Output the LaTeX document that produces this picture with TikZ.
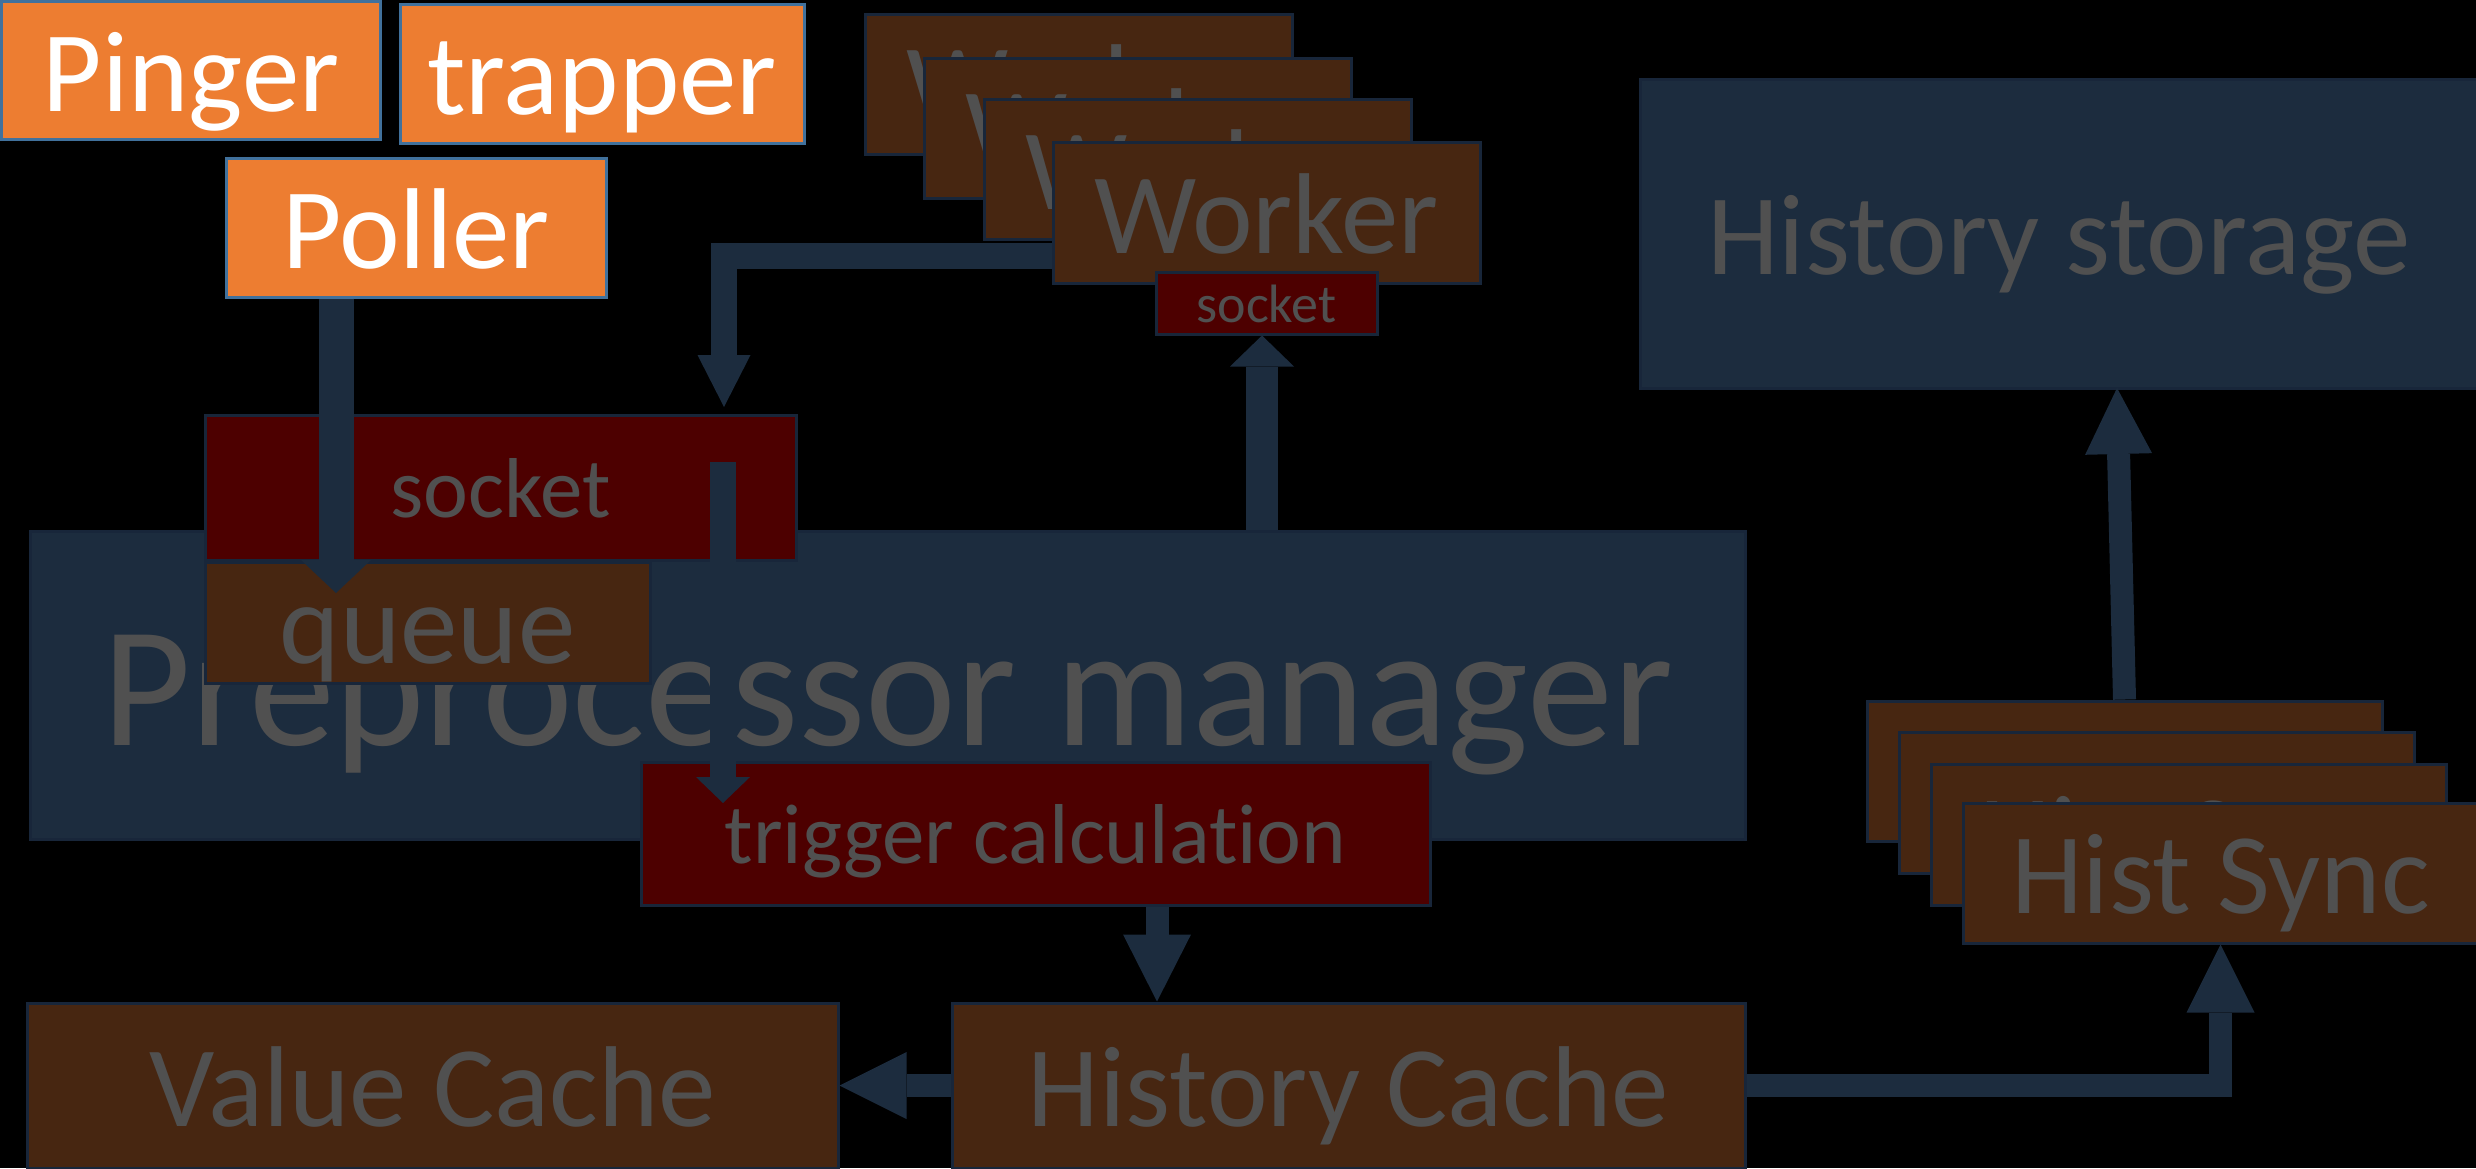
\documentclass[tikz,border=0pt]{standalone}
\usepackage{fontspec}
\setmainfont{Carlito}[Ligatures=NoCommon]
\usetikzlibrary{arrows.meta}
\definecolor{navy}{HTML}{1C2C3E}
\definecolor{edge}{HTML}{18263A}
\definecolor{brn}{HTML}{472611}
\definecolor{mrn}{HTML}{4D0000}
\definecolor{txtgray}{HTML}{505050}
\definecolor{orng}{HTML}{ED7D31}
\definecolor{orngedge}{HTML}{41719C}
\tikzset{
  bx/.style={draw=edge, line width=3pt, inner sep=0pt, text=txtgray,
    font=\fontsize{115pt}{138pt}\selectfont, text height=98pt, text depth=17pt},
  bigtxt/.style={font=\fontsize{172pt}{200pt}\selectfont, text height=146pt, text depth=26pt},
  midtxt/.style={font=\fontsize{85pt}{100pt}\selectfont, text height=72pt, text depth=13pt},
  smalltxt/.style={font=\fontsize{54pt}{64pt}\selectfont, text height=46pt, text depth=8pt},
  orangebox/.style={bx, fill=orng, draw=orngedge, text=white},
  brownbox/.style={bx, fill=brn},
  maroonbox/.style={bx, fill=mrn},
  navybox/.style={bx, fill=navy},
  arr/.style={draw=navy, line join=miter, line cap=butt},
}
\begin{document}
\begin{tikzpicture}[x=1pt,y=-1pt]
\useasboundingbox (0,0) rectangle (2476,1168);
\fill[black] (0,0) rectangle (2476,1168);

% orange sources
\node[orangebox, minimum width=379pt, minimum height=138pt] (pinger) at (191,70.5) {Pinger};
\node[orangebox, minimum width=404pt, minimum height=139pt] (trapper) at (602,73.5) {trapper};
\node[orangebox, minimum width=380pt, minimum height=139pt] (poller) at (416,227.5) {Poller};

% workers
\node[brownbox, minimum width=427pt, minimum height=140pt] (w1) at (1078.5,84) {Worker};
\node[brownbox, minimum width=427pt, minimum height=140pt] (w2) at (1138,128) {Worker};
\node[brownbox, minimum width=427pt, minimum height=140pt] (w3) at (1198,169) {Worker};
\node[brownbox, minimum width=427pt, minimum height=141pt] (w4) at (1266.5,212.5) {Worker};
\node[maroonbox, smalltxt, minimum width=221pt, minimum height=62pt] (sock2) at (1266.5,303) {socket};

% history storage
\node[navybox, minimum width=838pt, minimum height=309pt] (hs) at (2059,233.5) {History storage};

% preprocessor manager
\node[navybox, bigtxt, minimum width=1715pt, minimum height=308pt] (pm) at (887.5,685) {Preprocessor manager};
\node[maroonbox, midtxt, minimum width=591pt, minimum height=145pt] (sock1) at (500.5,487.5) {socket};
\node[brownbox, minimum width=445pt, minimum height=121pt] (queue) at (427.5,622.5) {queue};
\node[maroonbox, midtxt, minimum width=789pt, minimum height=143pt] (trig) at (1035.5,833.5) {trigger calculation};

% caches
\node[brownbox, minimum width=811pt, minimum height=165pt] (vc) at (432.5,1085.5) {Value Cache};
\node[brownbox, minimum width=793pt, minimum height=165pt] (hc) at (1348.5,1085.5) {History Cache};

% hist sync stack
\node[brownbox, minimum width=515pt, minimum height=140pt] (hsy1) at (2124.5,771) {Hist Sync};
\node[brownbox, minimum width=515pt, minimum height=141pt] (hsy2) at (2156.5,802.5) {Hist Sync};
\node[brownbox, minimum width=515pt, minimum height=141pt] (hsy3) at (2188.5,834.5) {Hist Sync};
\node[brownbox, minimum width=515pt, minimum height=140pt] (hsy4) at (2220.5,873) {Hist Sync};

% arrow end points
\coordinate (qtip) at (336,593);
\coordinate (bend) at (724,256);
\coordinate (stip) at (724,407);
\coordinate (sstart) at (723,462);
\coordinate (ttip) at (723,803);
\coordinate (hstip) at (2117,388);

% connectors
\draw[arr, line width=35pt, -{Triangle[width=70pt,length=33pt,line width=0pt]}]
  (336,0 |- poller.south) -- (qtip);
\draw[arr, line width=26pt, -{Triangle[width=53pt,length=52pt,line width=0pt]}]
  (w4.west |- bend) -- (bend) -- (stip);
\draw[arr, line width=26pt, -{Triangle[width=54pt,length=26pt,line width=0pt]}]
  (sstart) -- (ttip);
\draw[arr, line width=32pt, -{Triangle[width=64pt,length=31pt,line width=0pt]}]
  (1262,0 |- pm.north) -- (1262,0 |- sock2.south);
\draw[arr, line width=23pt, -{Triangle[width=68pt,length=67pt,line width=0pt]}]
  (1157,0 |- trig.south) -- (1157,0 |- hc.north);
\draw[arr, line width=23pt, -{Triangle[width=67pt,length=67pt,line width=0pt]}]
  (hc.west) -- (vc.east);
\draw[arr, line width=23pt, -{Triangle[width=68pt,length=68pt,line width=0pt]}]
  (hc.east) -| (hsy4.south);
\draw[arr, line width=23pt, -{Triangle[width=67pt,length=66pt,line width=0pt]}]
  (hsy1.north) -- (hstip);
\end{tikzpicture}
\end{document}
